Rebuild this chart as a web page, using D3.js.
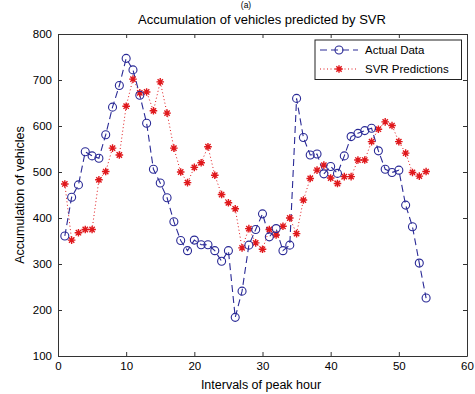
<!DOCTYPE html>
<html><head><meta charset="utf-8">
<script src="https://cdn.jsdelivr.net/npm/d3@7"></script>
<style>body{margin:0;background:#fff}svg{display:block}text{font-family:"Liberation Sans",Arial,sans-serif;fill:#000}</style>
</head><body><svg id="c" width="475" height="394"></svg>
<script>
const xs = d3.range(1, 55);
const actual = [361,445,472,544,535,530,581,641,688,747,722,667,606,506,476,444,392,351,329,352,342,342,329,306,329,184,241,341,375,409,359,377,329,341,660,575,537,539,496,512,497,535,577,584,590,595,546,506,499,504,428,381,302,226];
const svr = [474,352,368,375,375,483,501,552,537,643,702,672,674,633,696,628,552,500,477,510,520,555,493,451,433,420,335,377,346,332,375,363,382,400,366,439,486,504,515,487,475,490,490,526,526,566,593,609,601,566,541,499,491,501];
const xTicks = [0,10,20,30,40,50,60];
const yTicks = [100,200,300,400,500,600,700,800];
const labels = {panel:"(a)", title:"Accumulation of vehicles predicted by SVR", x:"Intervals of peak hour", y:"Accumulation of vehicles", s1:"Actual Data", s2:"SVR Predictions"};

const svg = d3.select("#c");
const L=58, R=467, T=34, B=356;
const x = d3.scaleLinear().domain([0,60]).range([L,R]);
const y = d3.scaleLinear().domain([100,800]).range([B,T]);
const blue = "#2a2a96", red = "#e0181c";

// panel label
svg.append("text").attr("x",246).attr("y",8).attr("text-anchor","middle").style("font-size","8.5px").text(labels.panel);

// axes with inward ticks
const ax = svg.append("g").attr("color","#333");
ax.append("g").attr("transform",`translate(0,${B})`).call(d3.axisBottom(x).tickValues(xTicks).tickSizeInner(-4).tickSizeOuter(0).tickPadding(6))
  .call(g=>g.selectAll("text").style("font-size","11.5px").attr("fill","#000"));
ax.append("g").attr("transform",`translate(0,${T})`).call(d3.axisTop(x).tickValues(xTicks).tickSizeInner(-4).tickSizeOuter(0).tickFormat(""));
ax.append("g").attr("transform",`translate(${L},0)`).call(d3.axisLeft(y).tickValues(yTicks).tickSizeInner(-4).tickSizeOuter(0).tickPadding(6))
  .call(g=>g.selectAll("text").style("font-size","11.5px").attr("fill","#000"));
ax.append("g").attr("transform",`translate(${R},0)`).call(d3.axisRight(y).tickValues(yTicks).tickSizeInner(-4).tickSizeOuter(0).tickFormat(""));
ax.selectAll(".domain").attr("stroke","#333");

// series
const ptsA = xs.map((d,i)=>[d,actual[i]]);
const ptsS = xs.map((d,i)=>[d,svr[i]]);
const line = d3.line().x(d=>x(d[0])).y(d=>y(d[1]));
svg.append("path").attr("d",line(ptsS)).attr("fill","none").attr("stroke",red).attr("stroke-width",1).attr("stroke-dasharray","1,2.5");
svg.append("path").attr("d",line(ptsA)).attr("fill","none").attr("stroke",blue).attr("stroke-width",1.1).attr("stroke-dasharray","7,4");

function star(g, cx, cy, r){
  const p = `M${cx-r},${cy}L${cx+r},${cy}M${cx},${cy-r}L${cx},${cy+r}M${cx-r*0.7},${cy-r*0.7}L${cx+r*0.7},${cy+r*0.7}M${cx-r*0.7},${cy+r*0.7}L${cx+r*0.7},${cy-r*0.7}`;
  g.append("path").attr("d",p).attr("stroke",red).attr("stroke-width",1.4).attr("fill","none");
}
const gs = svg.append("g");
ptsS.forEach(d=>star(gs, x(d[0]), y(d[1]), 3.8));
svg.append("g").selectAll("circle").data(ptsA).join("circle")
  .attr("cx",d=>x(d[0])).attr("cy",d=>y(d[1])).attr("r",4)
  .attr("fill","none").attr("stroke",blue).attr("stroke-width",1.1);

// legend
const lg = svg.append("g");
lg.append("rect").attr("x",315).attr("y",40).attr("width",146.5).attr("height",39.5).attr("fill","#fff").attr("stroke","#222").attr("stroke-width",1);
lg.append("line").attr("x1",320).attr("x2",358).attr("y1",50).attr("y2",50).attr("stroke",blue).attr("stroke-width",1.1).attr("stroke-dasharray","7,4");
lg.append("circle").attr("cx",339).attr("cy",50).attr("r",4).attr("fill","none").attr("stroke",blue).attr("stroke-width",1.1);
lg.append("text").attr("x",365).attr("y",54).style("font-size","11.5px").text(labels.s1);
lg.append("line").attr("x1",320).attr("x2",358).attr("y1",69).attr("y2",69).attr("stroke",red).attr("stroke-width",1).attr("stroke-dasharray","1,2.5");
star(lg, 339, 69, 3.8);
lg.append("text").attr("x",365).attr("y",73).style("font-size","11.5px").text(labels.s2);

// titles
svg.append("text").attr("x",262).attr("y",24).attr("text-anchor","middle").style("font-size","13px").text(labels.title);
svg.append("text").attr("x",261).attr("y",389).attr("text-anchor","middle").style("font-size","12.5px").text(labels.x);
svg.append("text").attr("transform",`translate(24,${(T+B)/2}) rotate(-90)`).attr("text-anchor","middle").style("font-size","12.5px").text(labels.y);
</script></body></html>
